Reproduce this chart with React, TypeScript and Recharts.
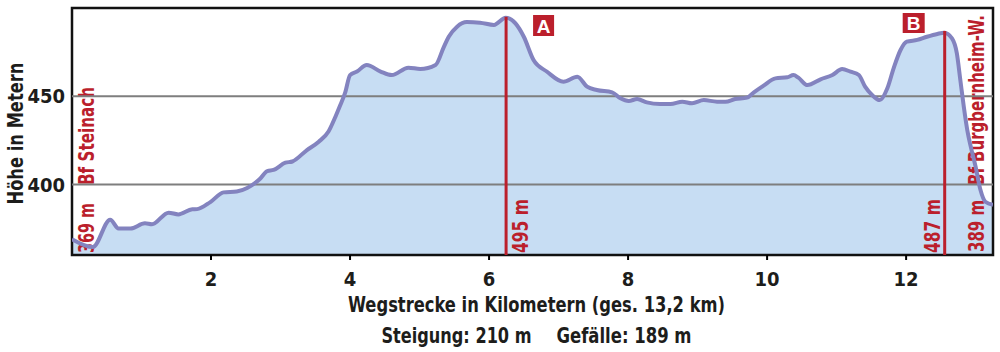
import React from "react";
import {
  ComposedChart,
  Area,
  Line,
  XAxis,
  YAxis,
  ReferenceLine,
  ReferenceArea,
} from "recharts";

const distanceKm = [
  0, 0.3, 0.55, 0.67, 0.84, 1.05, 1.15, 1.39, 1.53, 1.73, 1.8, 1.99, 2.18, 2.37, 2.52,
  2.71, 2.81, 2.9, 3.07, 3.17, 3.38, 3.55, 3.69, 3.79, 3.86, 3.93, 4.0, 4.1, 4.24, 4.44,
  4.6, 4.84, 5.01, 5.23, 5.35, 5.42, 5.54, 5.68, 5.87, 6.07, 6.24, 6.38, 6.5, 6.64, 6.83,
  7.07, 7.27, 7.41, 7.55, 7.77, 7.89, 8.01, 8.13, 8.27, 8.46, 8.61, 8.78, 8.92, 9.09,
  9.28, 9.4, 9.54, 9.71, 9.81, 9.95, 10.12, 10.29, 10.38, 10.45, 10.58, 10.77, 10.94,
  11.08, 11.2, 11.32, 11.41, 11.51, 11.62, 11.73, 11.82, 11.92, 12.01, 12.16, 12.3,
  12.45, 12.55, 12.66, 12.73, 12.78, 12.83, 12.88, 12.93, 13.0, 13.07, 13.14, 13.25,
];
const heightM = [
  369, 364.5, 380, 375, 375, 378, 377.4, 384, 383, 385.9, 386, 390, 395.5, 396, 398,
  403.4, 407.6, 408.2, 412.3, 413, 419.5, 424.2, 430, 438.4, 445, 452, 462, 464, 467.7,
  464, 462, 466.2, 465.4, 467.7, 478, 483.7, 489.4, 492, 491.7, 490.4, 494.5, 491.3,
  483.7, 470.5, 464, 458.2, 461, 455.4, 453.5, 452.2, 448.8, 447.3, 448.4, 446.5, 445.6,
  445.6, 446.9, 446, 447.8, 446.9, 446.9, 448.4, 449.2, 452.2, 456, 460.1, 460.7, 462,
  460.5, 456.3, 459.6, 462, 465.4, 463.9, 462, 455.4, 450.7, 447.8, 454.5, 465.8, 476.2,
  480.9, 481.9, 483.7, 485.3, 486, 482.8, 474.3, 459.2, 444, 430.8, 421.4, 410, 396.8,
  390.2, 388.5,
];

const xTicks = [2, 4, 6, 8, 10, 12];
const yTicks = [400, 450];
const gridLevels = [450, 400];

const markKm = [6.245, 12.555];
const markHeight = [495, 487];
const markTag = ["A", "B"];
const markText = ["495 m", "487 m"];

const startText = ["369 m", "Bf Steinach"];
const endText = ["389 m", "Bf Burgbernheim-W."];

const data = distanceKm.map((km, i) => ({ km, h: heightM[i] }));

const FONT = "'Liberation Sans Narrow', 'Arial Narrow', 'DejaVu Sans Condensed', sans-serif";
const RED = "#bb1f2c";
const INK = "#1d1d1b";

function VText({ x, y, text, len, size = 22, color = RED, anchor = "start" }: any) {
  return (
    <text
      x={x}
      y={y}
      transform={`rotate(-90 ${x} ${y})`}
      fill={color}
      fontFamily={FONT}
      fontWeight="bold"
      fontSize={size}
      textAnchor={anchor}
      textLength={len}
      lengthAdjust="spacingAndGlyphs"
    >
      {text}
    </text>
  );
}

// Beschriftung der roten Markierungslinien (Text + Buchstabenkasten)
const markLayout = [
  { textDx: 22, boxDx: 27, boxTop: 15, boxW: 21, boxH: 21 },
  { textDx: -5, boxDx: -42, boxTop: 13, boxW: 22, boxH: 20 },
];

function markLabel(i: number) {
  return (props: any) => {
    const vb = props.viewBox || {};
    const lx = vb.x;
    const bottom = vb.y + vb.height;
    const l = markLayout[i];
    return (
      <g>
        <VText x={lx + l.textDx} y={bottom - 2} text={markText[i]} len={54} />
        <rect x={lx + l.boxDx} y={l.boxTop} width={l.boxW} height={l.boxH} fill={RED} />
        <text
          x={lx + l.boxDx + l.boxW / 2}
          y={l.boxTop + l.boxH / 2 + 7}
          textAnchor="middle"
          fill="#fff"
          fontFamily="'Liberation Sans', Arial, sans-serif"
          fontWeight="bold"
          fontSize={19}
        >
          {markTag[i]}
        </text>
      </g>
    );
  };
}

function frameLabel(props: any) {
  const { x, y, width, height } = props.viewBox || {};
  const bottom = y + height;
  const right = x + width;
  return (
    <g>
      <VText x={x + 22} y={bottom - 2} text={startText[0]} len={50} />
      <VText x={x + 22} y={bottom - 70} text={startText[1]} len={98} />
      <VText x={right - 9} y={bottom - 3} text={endText[0]} len={52} />
      <VText x={right - 9} y={bottom - 70} text={endText[1]} len={170} size={21} />
    </g>
  );
}

function xTitle(props: any) {
  const { x, y, width } = props.viewBox || {};
  const cx = x + width / 2 + 4;
  const common = {
    fill: INK,
    fontFamily: FONT,
    fontWeight: "bold" as const,
    fontSize: 21,
    lengthAdjust: "spacingAndGlyphs",
  };
  return (
    <g>
      <text x={cx} y={y + 57} textAnchor="middle" textLength={377} {...common}>
        Wegstrecke in Kilometern (ges. 13,2 km)
      </text>
      <text x={cx - 155} y={y + 88} textAnchor="start" textLength={150} {...common}>
        Steigung: 210 m
      </text>
      <text x={cx + 20} y={y + 88} textAnchor="start" textLength={135} {...common}>
        Gefälle: 189 m
      </text>
    </g>
  );
}

function yTitle(props: any) {
  const { y, height } = props.viewBox || {};
  return (
    <VText
      x={23}
      y={y + height / 2 + 2}
      text="Höhe in Metern"
      len={142}
      size={21}
      color={INK}
      anchor="middle"
    />
  );
}

export default function App() {
  return (
    <div style={{ position: "absolute", left: 0, top: 0, width: 1000, height: 352, background: "#fff" }}>
      <ComposedChart
        width={1000}
        height={352}
        data={data}
        margin={{ top: 8, right: 7, bottom: 67, left: 8 }}
      >
        <XAxis
          dataKey="km"
          type="number"
          domain={[0, 13.25]}
          ticks={xTicks}
          allowDataOverflow
          height={30}
          axisLine={false}
          tickSize={5}
          tickMargin={12}
          tickLine={{ stroke: "#000", strokeWidth: 2 }}
          tick={{ fill: INK, fontSize: 20, fontWeight: "bold", fontFamily: FONT }}
          label={xTitle}
        />
        <YAxis
          type="number"
          domain={[360, 500]}
          ticks={yTicks}
          allowDataOverflow
          width={64}
          axisLine={false}
          tickLine={false}
          tickSize={0}
          tickMargin={7}
          tick={{ fill: INK, fontSize: 20, fontWeight: "bold", fontFamily: FONT }}
          label={yTitle}
        />
        <Area
          dataKey="h"
          type="monotone"
          fill="#c7ddf3"
          fillOpacity={1}
          stroke="none"
          isAnimationActive={false}
        />
        {gridLevels.map((v) => (
          <ReferenceLine key={v} y={v} stroke="#7e7e7e" strokeWidth={2} />
        ))}
        <Line
          dataKey="h"
          type="monotone"
          stroke="#8383bf"
          strokeWidth={4}
          dot={false}
          isAnimationActive={false}
        />
        {markKm.map((km, i) => (
          <ReferenceLine
            key={km}
            segment={[
              { x: km, y: 360 },
              { x: km, y: markHeight[i] },
            ]}
            stroke={RED}
            strokeWidth={3}
            label={markLabel(i)}
          />
        ))}
        <ReferenceArea
          x1={0}
          x2={13.25}
          y1={360}
          y2={500}
          fill="none"
          stroke="#111"
          strokeWidth={2.5}
          label={frameLabel}
        />
      </ComposedChart>
    </div>
  );
}
